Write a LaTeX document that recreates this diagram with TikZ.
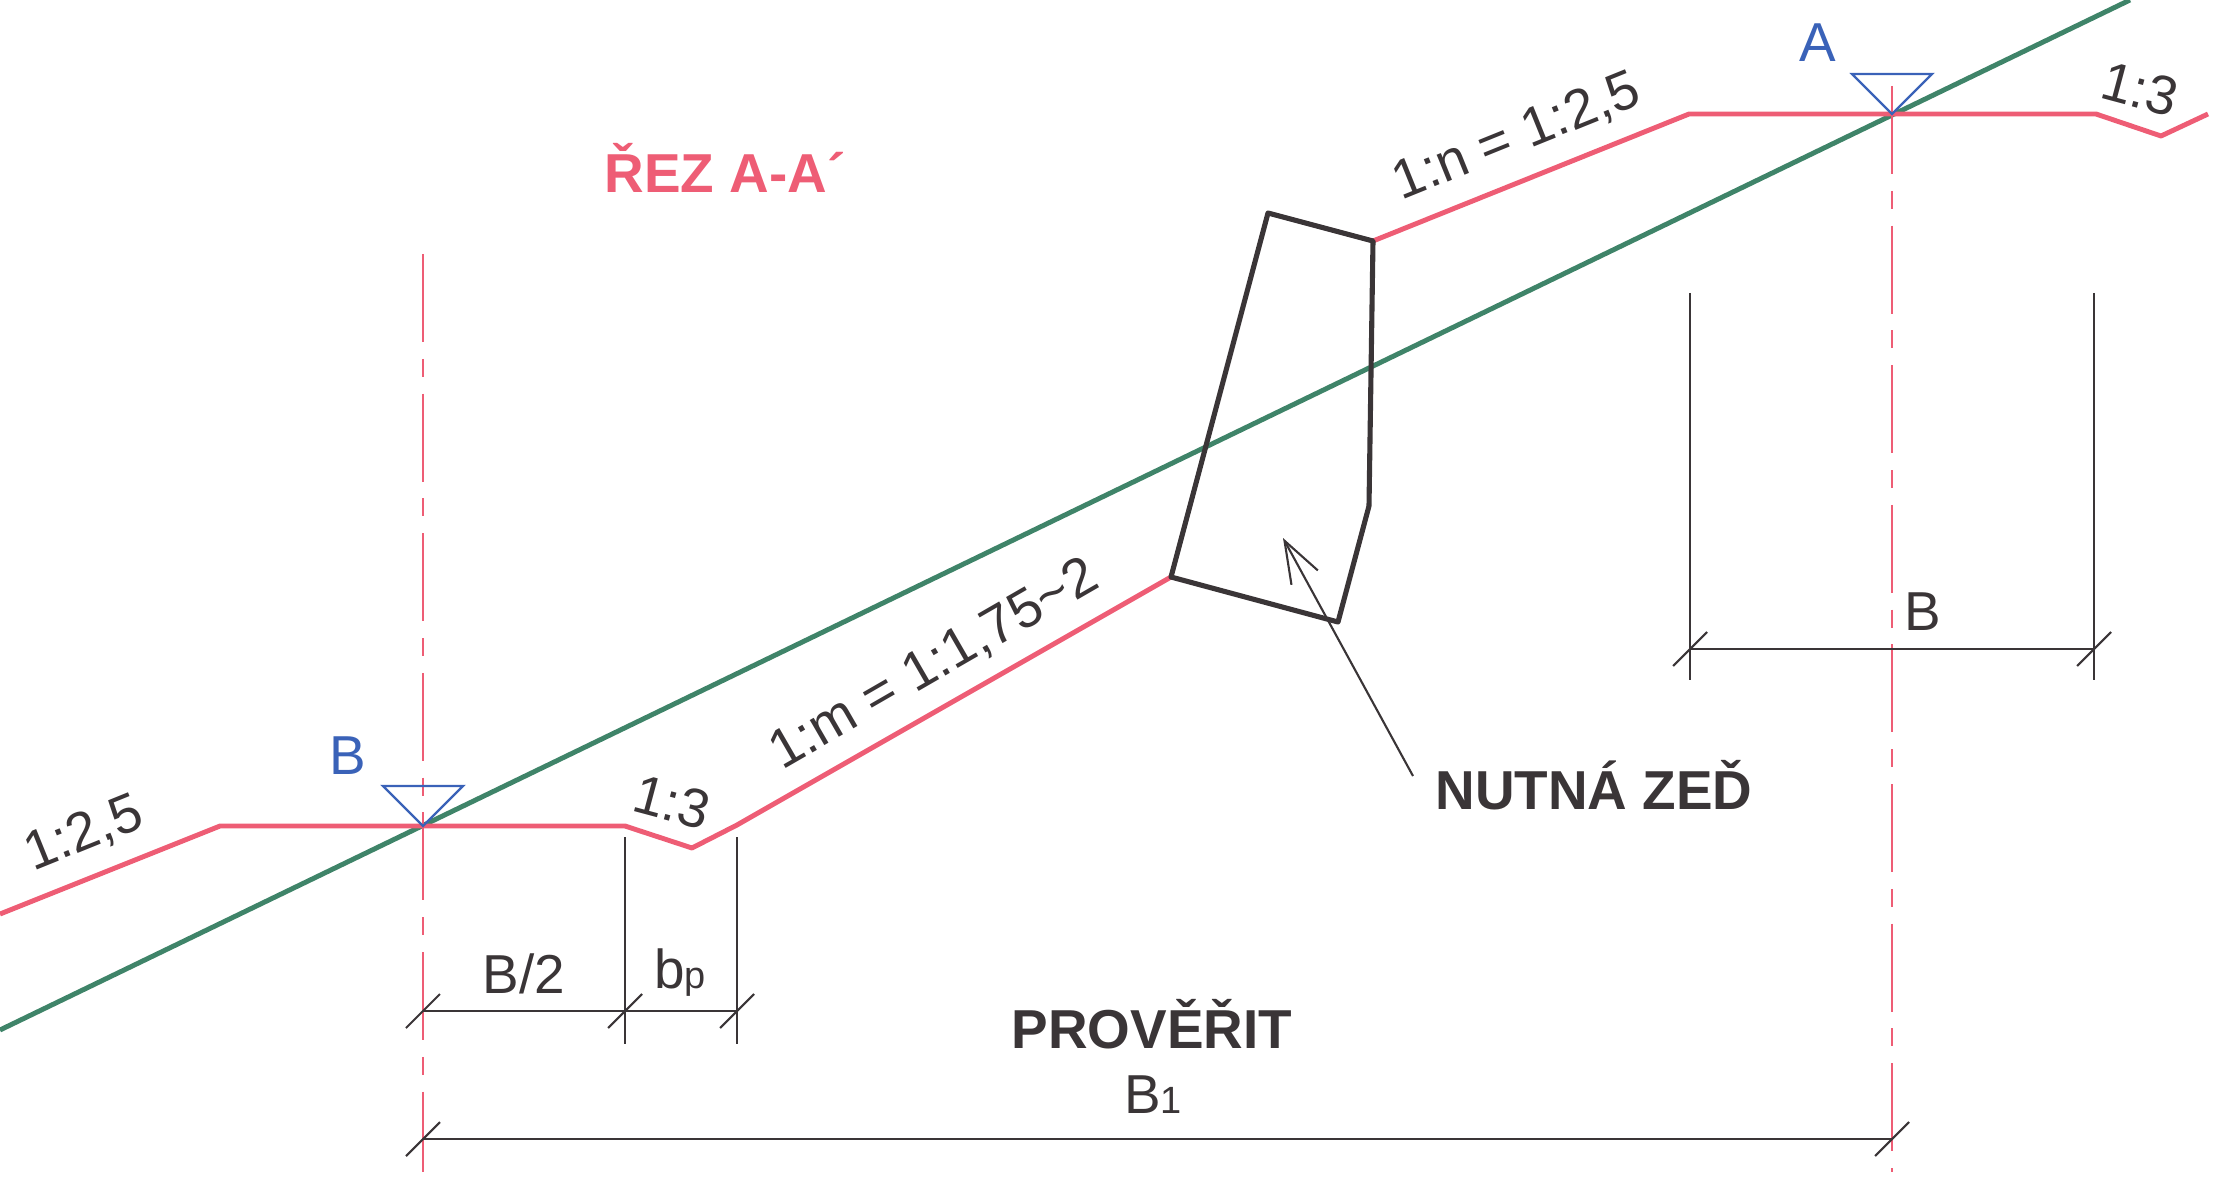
\documentclass[tikz,border=0pt]{standalone}
\usepackage{fontspec}
\setmainfont{Liberation Sans}
\usetikzlibrary{arrows.meta}
\definecolor{slopered}{HTML}{EE5D75}
\definecolor{terrain}{HTML}{3F8469}
\definecolor{levelblue}{HTML}{3A62B8}
\definecolor{inkdark}{HTML}{3A3537}
\newcommand{\smalltxt}[1]{{\fontsize{10.8}{12}\selectfont #1}}

\begin{document}
\begin{tikzpicture}[x=0.01cm,y=-0.01cm,>={Straight Barb[length=4.2mm,width=3mm]},
  slope/.style={slopered,line width=1.4pt,line join=round},
  ground/.style={terrain,line width=1.4pt},
  wall/.style={inkdark,line width=1.45pt,line join=round},
  axisline/.style={slopered,line width=0.7pt,dash pattern=on 25pt off 4.8pt on 5.1pt off 4.8pt},
  dimline/.style={inkdark,line width=0.6pt},
  level/.style={levelblue,line width=0.65pt},
  txt/.style={inkdark,inner sep=0pt,font=\fontsize{15.6}{18}\selectfont},
  head/.style={inner sep=0pt,anchor=base,font=\fontsize{15.6}{18}\selectfont\bfseries}]
  \useasboundingbox (0,0) rectangle (2220,1179);

  % terrain
  \coordinate (gl) at (0,1030);
  \coordinate (gr) at (2130,0);
  \draw[ground] (gl) -- (gr);

  % points on the road
  \coordinate (pA) at (1892,114);
  \coordinate (pB) at (423,826);
  \coordinate (r1) at (0,914);
  \coordinate (r2) at (220,826);
  \coordinate (r3) at (625,826);
  \coordinate (r4) at (692,848);
  \coordinate (r5) at (737,825);
  \coordinate (w1) at (1171,577);
  \coordinate (w2) at (1268,213);
  \coordinate (w3) at (1373,241);
  \coordinate (w4) at (1369,506);
  \coordinate (w5) at (1338,622);
  \coordinate (r6) at (1689,114);
  \coordinate (r7) at (2096,114);
  \coordinate (r8) at (2161,136);
  \coordinate (r9) at (2208,114);

  \draw[slope] (r1) -- (r2) -- (pB) -- (r3) -- (r4) -- (r5) -- (w1);
  \draw[slope] (w3) -- (r6) -- (pA) -- (r7) -- (r8) -- (r9);
  \draw[wall] (w1) -- (w2) -- (w3) -- (w4) -- (w5) -- cycle;

  % axes
  \coordinate (aA) at (1892,86);
  \coordinate (aAe) at (1892,1172);
  \coordinate (aB) at (423,254);
  \coordinate (aBe) at (423,1172);
  \draw[axisline] (aA) -- (aAe);
  \draw[axisline] (aB) -- (aBe);

  % level marks
  \foreach \p in {pA,pB}
    \draw[level] (\p) -- ([shift={(-40,-40)}]\p) -- ([shift={(40,-40)}]\p) -- cycle;

  % dimensions
  \coordinate (d1) at (423,1011);
  \coordinate (d2) at (625,1011);
  \coordinate (d3) at (737,1011);
  \coordinate (d4) at (423,1139);
  \coordinate (d5) at (1892,1139);
  \coordinate (d6) at (1690,649);
  \coordinate (d7) at (2094,649);
  \draw[dimline] (d1) -- (d2) -- (d3);
  \draw[dimline] (d4) -- (d5);
  \draw[dimline] (d6) -- (d7);
  \foreach \p in {d1,d2,d3,d4,d5,d6,d7}
    \draw[dimline] ([shift={(-17,17)}]\p) -- ([shift={(17,-17)}]\p);

  \coordinate (e2) at (625,837);
  \coordinate (e2e) at (625,1044);
  \coordinate (e3) at (737,837);
  \coordinate (e3e) at (737,1044);
  \coordinate (e6) at (1690,293);
  \coordinate (e6e) at (1690,680);
  \coordinate (e7) at (2094,293);
  \coordinate (e7e) at (2094,680);
  \draw[dimline] (e2) -- (e2e);
  \draw[dimline] (e3) -- (e3e);
  \draw[dimline] (e6) -- (e6e);
  \draw[dimline] (e7) -- (e7e);

  % arrow to the wall
  \coordinate (atail) at (1413,776);
  \coordinate (atip) at (1283,538);
  \draw[dimline,->] (atail) -- (atip);

  % labels
  \node[head,slopered] (rez) at (725,193) {ŘEZ A-A´};
  \node[head,inkdark] (nutna) at (1594,809) {NUTNÁ ZEĎ};
  \node[head,inkdark] (proverit) at (1152,1048) {PROVĚŘIT};
  \node[txt,levelblue,anchor=base] (lA) at (1818,62) {A};
  \node[txt,levelblue,anchor=base] (lB) at (348,774) {B};
  \node[txt,anchor=base] (lb2) at (524,993) {B/2};
  \node[txt,anchor=base] (lbp) at (680,988) {b\smalltxt{p}};
  \node[txt,anchor=base] (lB1) at (1153,1113) {B\smalltxt{1}};
  \node[txt,anchor=base] (lBr) at (1923,630) {B};
  \node[txt,rotate=22] (ln) at (1517,137) {1:n = 1:2,5};
  \node[txt,rotate=30] (lm) at (934,665) {1:m = 1:1,75\textasciitilde 2};
  \node[txt,rotate=22] (l25) at (84,834) {1:2,5};
  \node[txt,rotate=-15] (l3a) at (672,802) {1:3};
  \node[txt,rotate=-15] (l3b) at (2140,89) {1:3};
\end{tikzpicture}
\end{document}
